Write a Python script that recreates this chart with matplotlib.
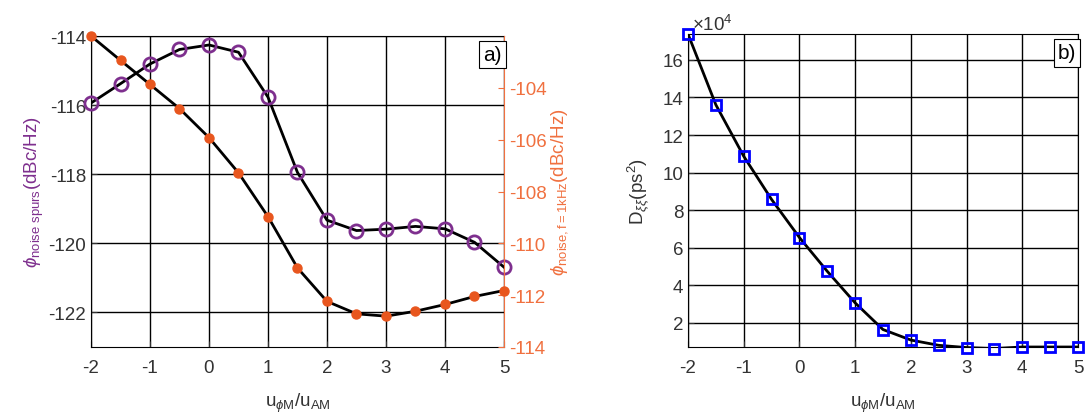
import numpy as np
import matplotlib
matplotlib.use("Agg")
import matplotlib.pyplot as plt

plt.rcParams['font.family'] = ['Liberation Sans', 'DejaVu Sans']
plt.rcParams['mathtext.fontset'] = 'custom'
plt.rcParams['mathtext.rm'] = 'Liberation Sans'
plt.rcParams['mathtext.it'] = 'Liberation Sans:italic'
plt.rcParams['axes.unicode_minus'] = False

# ---- data ----
u_ratio = [-2, -1.5, -1, -0.5, 0, 0.5, 1, 1.5, 2, 2.5, 3, 3.5, 4, 4.5, 5]
phi_spurs = [-115.94, -115.38, -114.81, -114.39, -114.26, -114.47, -115.77,
             -117.95, -119.33, -119.63, -119.59, -119.51, -119.58, -119.97, -120.69]
phi_1khz = [-102.0, -102.94, -103.87, -104.8, -105.92, -107.28, -108.97,
            -110.95, -112.24, -112.72, -112.81, -112.62, -112.36, -112.05, -111.82]
D_xixi = [173800, 136100, 108700, 85700, 65400, 47400, 30600,
          16400, 10800, 8000, 6800, 6300, 7100, 7100, 7100]
x_ticks = [-2, -1, 0, 1, 2, 3, 4, 5]
left_yticks = [-122, -120, -118, -116, -114]
right_yticks = [-114, -112, -110, -108, -106, -104]
d_ticks = [2, 4, 6, 8, 10, 12, 14, 16]
d_scale = 1e4

purple = '#7E2F8E'
orange = '#E8561E'
orange_txt = '#F0703F'
fs = 13.5

W, H = 1085, 414
fig = plt.figure(figsize=(W / 100, H / 100), dpi=100)

def frac(x0, x1, y0, y1):
    return [x0 / W, 1 - y1 / H, (x1 - x0) / W, (y1 - y0) / H]

xlabel_txt = r'u$_{\phi \mathrm{M}}$/u$_{\mathrm{AM}}$'

# ---- panel a ----
ax = fig.add_axes(frac(91, 504, 37, 348))
ax.plot(u_ratio, phi_spurs, color='black', lw=2, zorder=3)
ax.plot(u_ratio, phi_spurs, 'o', ms=9.5, mfc='none', mec=purple, mew=2, zorder=4, clip_on=False)
ax.set_xlim(-2, 5)
ax.set_ylim(-123, -114)
ax.set_xticks(x_ticks)
ax.set_yticks(left_yticks)
ax.grid(True, color='black', lw=1)
ax.set_axisbelow(True)
ax.tick_params(direction='in', labelsize=fs, colors='#333333', length=4, right=False)
ax.tick_params(axis='x', pad=9)
for s in ax.spines.values():
    s.set_color('black')
    s.set_linewidth(0.8)
ax.spines['right'].set_visible(False)
ax.set_xlabel(xlabel_txt, fontsize=fs, color='#333333', labelpad=10)
ax.set_ylabel(r'$\phi_{\mathrm{noise\ spurs}}$(dBc/Hz)', fontsize=fs, color=purple, labelpad=2)

ax2 = ax.twinx()
ax2.plot(u_ratio, phi_1khz, color='black', lw=2, zorder=3)
ax2.plot(u_ratio, phi_1khz, 'o', ms=6.5, mfc=orange, mec=orange, zorder=4, clip_on=False)
ax2.set_ylim(-114, -102)
ax2.set_yticks(right_yticks)
ax2.tick_params(direction='in', labelsize=fs, colors=orange_txt, length=4)
ax2.spines['right'].set_color(orange_txt)
ax2.spines['right'].set_linewidth(0.8)
for k in ['left', 'top', 'bottom']:
    ax2.spines[k].set_visible(False)
ax2.set_ylabel(r'$\phi_{\mathrm{noise,f=1kHz}}$(dBc/Hz)', fontsize=fs, color=orange_txt, labelpad=2)
ax2.text(0.995, 0.97, 'a)', transform=ax2.transAxes, ha='right', va='top', fontsize=15,
         bbox=dict(boxstyle='square,pad=0.2', fc='white', ec='black', lw=0.8), zorder=10)

# ---- panel b ----
bx = fig.add_axes(frac(688, 1078, 35, 348))
d_vals = np.array(D_xixi) / d_scale
bx.plot(u_ratio, d_vals, color='black', lw=2, zorder=3)
bx.plot(u_ratio, d_vals, 's', ms=7.5, mfc='none', mec='#0000FF', mew=2, zorder=4, clip_on=False)
bx.set_xlim(-2, 5)
bx.set_ylim(0.71, 17.38)
bx.set_xticks(x_ticks)
bx.set_yticks(d_ticks)
bx.grid(True, color='black', lw=1)
bx.set_axisbelow(True)
bx.tick_params(direction='in', labelsize=fs, colors='#333333', length=4)
bx.tick_params(axis='x', pad=9)
for s in bx.spines.values():
    s.set_color('black')
    s.set_linewidth(0.8)
bx.set_xlabel(xlabel_txt, fontsize=fs, color='#333333', labelpad=10)
bx.set_ylabel(r'D$_{\xi\xi}$(ps$^2$)', fontsize=fs, color='#333333', labelpad=8)
bx.text(0.01, 1.0, r'$\times$10$^4$', transform=bx.transAxes, ha='left', va='bottom',
        fontsize=fs, color='#333333')
bx.text(0.995, 0.97, 'b)', transform=bx.transAxes, ha='right', va='top', fontsize=15,
        bbox=dict(boxstyle='square,pad=0.2', fc='white', ec='black', lw=0.8), zorder=10)

fig.savefig('out.png', dpi=100, facecolor='white')
